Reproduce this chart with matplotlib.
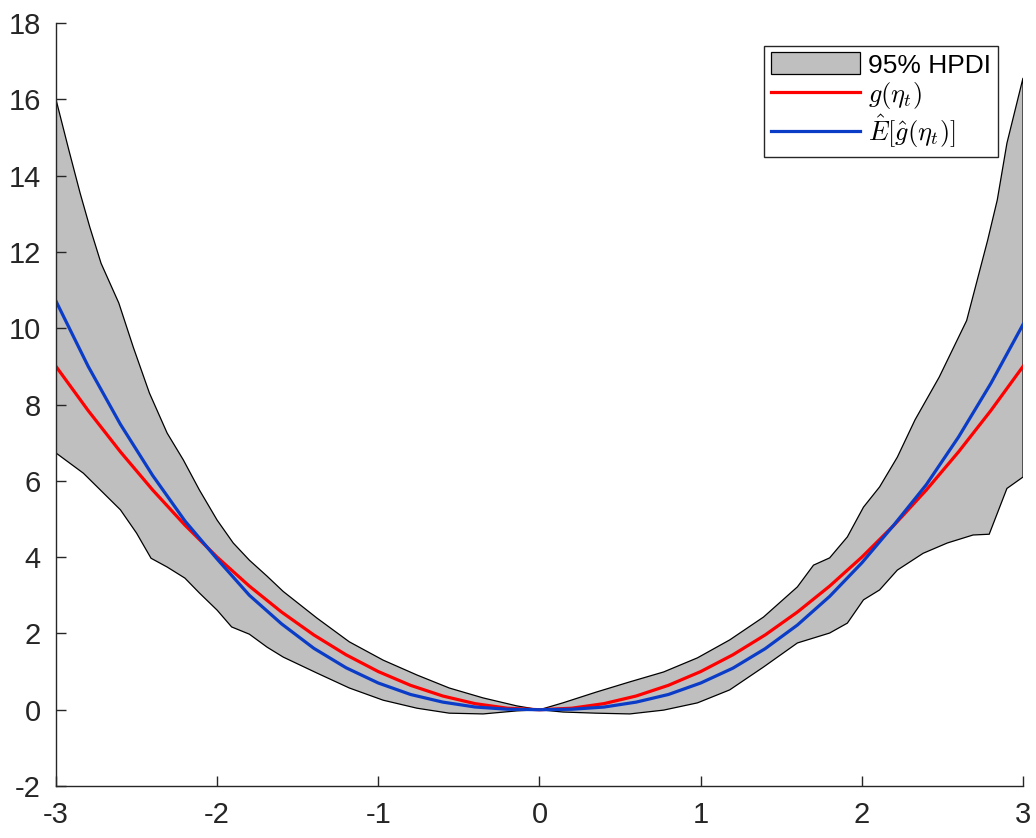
import matplotlib
matplotlib.use('Agg')
import matplotlib.pyplot as plt

plt.rcParams['font.family'] = ['Liberation Sans', 'DejaVu Sans']
plt.rcParams['mathtext.fontset'] = 'cm'
plt.rcParams['axes.unicode_minus'] = False

# true function g(eta) and posterior mean estimate
x_line = [-3.0, -2.8, -2.6, -2.4, -2.2, -2.0, -1.8, -1.6, -1.4, -1.2, -1.0, -0.8, -0.6, -0.4, -0.2,
          0.0, 0.2, 0.4, 0.6, 0.8, 1.0, 1.2, 1.4, 1.6, 1.8, 2.0, 2.2, 2.4, 2.6, 2.8, 3.0]
g_true = [9.0, 7.84, 6.76, 5.76, 4.84, 4.0, 3.24, 2.56, 1.96, 1.44, 1.0, 0.64, 0.36, 0.16, 0.04,
          0.0, 0.04, 0.16, 0.36, 0.64, 1.0, 1.44, 1.96, 2.56, 3.24, 4.0, 4.84, 5.76, 6.76, 7.84, 9.0]
g_est = [10.71, 9.0, 7.48, 6.14, 4.95, 3.95, 3.0, 2.25, 1.61, 1.1, 0.7, 0.4, 0.2, 0.072, 0.013,
         0.0, 0.013, 0.07, 0.2, 0.4, 0.7, 1.09, 1.6, 2.22, 2.97, 3.85, 4.85, 5.9, 7.15, 8.55, 10.1]

# 95% HPDI band edges
x_upper = [-3.0, -2.92, -2.85, -2.79, -2.72, -2.61, -2.52, -2.42, -2.31, -2.21, -2.11, -2.0,
           -1.9, -1.8, -1.69, -1.59, -1.38, -1.18, -0.97, -0.76, -0.56, -0.35, -0.14, 0.0,
           0.145, 0.35, 0.56, 0.77, 0.98, 1.18, 1.39, 1.6, 1.7, 1.8, 1.91, 2.01, 2.11, 2.22,
           2.33, 2.48, 2.65, 2.78, 2.84, 2.9, 3.0]
hpdi_upper = [16.0, 14.67, 13.54, 12.65, 11.7, 10.66, 9.5, 8.3, 7.25, 6.55, 5.76, 4.97,
              4.37, 3.92, 3.5, 3.1, 2.4, 1.78, 1.3, 0.91, 0.57, 0.31, 0.1, 0.0,
              0.18, 0.46, 0.73, 0.99, 1.36, 1.83, 2.43, 3.22, 3.79, 3.98, 4.53, 5.31, 5.84, 6.62,
              7.6, 8.72, 10.2, 12.3, 13.36, 14.85, 16.56]
x_lower = [-3.0, -2.83, -2.6, -2.5, -2.41, -2.31, -2.2, -2.11, -2.0, -1.91, -1.8, -1.69,
           -1.59, -1.38, -1.18, -0.97, -0.76, -0.56, -0.35, -0.14, 0.0,
           0.145, 0.35, 0.56, 0.77, 0.98, 1.18, 1.39, 1.6, 1.7, 1.8, 1.91, 2.01, 2.11, 2.22,
           2.38, 2.53, 2.69, 2.79, 2.9, 3.0]
hpdi_lower = [6.73, 6.2, 5.24, 4.63, 3.97, 3.74, 3.45, 3.06, 2.61, 2.17, 1.98, 1.64,
              1.38, 0.96, 0.57, 0.25, 0.04, -0.09, -0.11, -0.03, 0.0,
              -0.06, -0.09, -0.11, -0.01, 0.18, 0.52, 1.12, 1.75, 1.88, 2.01, 2.27, 2.88, 3.14, 3.66,
              4.1, 4.37, 4.58, 4.6, 5.8, 6.1]

fig = plt.figure(figsize=(10.36, 8.38), dpi=100)
ax = fig.add_axes([0.054, 0.062, 0.9335, 0.9106])

band_x = list(x_upper) + list(x_lower[::-1])
band_y = list(hpdi_upper) + list(hpdi_lower[::-1])
ax.fill(band_x, band_y, facecolor='#bfbfbf', edgecolor='black', linewidth=0.9,
        label='95% HPDI')
ax.plot(x_line, g_true, color='#ff0000', linewidth=2.3, label=r'$g(\eta_t)$')
ax.plot(x_line, g_est, color='#0a3cc8', linewidth=2.3, label=r'$\hat{E}[\hat{g}(\eta_t)]$')

ax.set_xlim(-3, 3)
ax.set_ylim(-2, 18)
ax.set_xticks(range(-3, 4))
ax.set_yticks(range(-2, 19, 2))

# matlab style: box off, ticks inside
for s in ['top', 'right']:
    ax.spines[s].set_visible(False)
for s in ['left', 'bottom']:
    ax.spines[s].set_color('#262626')
    ax.spines[s].set_linewidth(1.0)
ax.tick_params(direction='in', length=7, width=1.0, color='#262626',
               labelsize=21, labelcolor='#262626', pad=11)

leg = ax.legend(loc='upper right', fontsize=19, handlelength=3.4, handleheight=0.9,
                framealpha=1, fancybox=False, borderpad=0.25, labelspacing=0.08,
                handletextpad=0.3, borderaxespad=0.0, bbox_to_anchor=(0.974, 0.97))
leg.get_frame().set_edgecolor('#262626')
leg.get_frame().set_linewidth(1.0)

fig.savefig('out.png', dpi=100)
